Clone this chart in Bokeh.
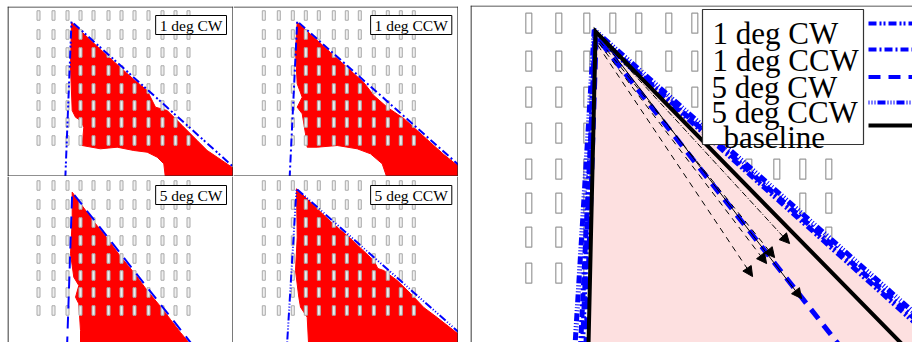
from bokeh.plotting import figure
from bokeh.models import Range1d, Label, Span, BoxAnnotation, Arrow, NormalHead, Spacer
from bokeh.layouts import row, column
from bokeh.embed import file_html
from bokeh.resources import INLINE

# ---------------- data (channel units, y pointing down) ----------------
pillar_cols = [31, 46, 60, 73, 86, 101, 114, 127, 141, 155, 168, 181]
pillar_rows = [9, 28, 46, 64, 82, 99, 116, 134]
pillar_w = 3.0
pillar_h = 9.5

case_names = ["1 deg CW", "1 deg CCW", "5 deg CW", "5 deg CCW"]

# wake boundary lines: left end, apex, right end
cw1_bx = [57.8, 64.0, 232.0]
cw1_by = [172.0, 15.0, 165.9]
ccw1_bx = [56.8, 64.4, 232.0]
ccw1_by = [172.0, 14.7, 163.9]
cw5_bx = [59.5, 64.7, 187.8]
cw5_by = [172.0, 15.7, 172.0]
ccw5_bx = [54.0, 63.7, 232.0]
ccw5_by = [172.0, 12.3, 161.1]

# baseline wake (black outline, pink area)
base_x = [60.8, 64.4, 220.1]
base_y = [172.0, 13.2, 172.0]
base_area_x = [64.4, 232.0, 232.0, 60.8]
base_area_y = [13.2, 164.0, 172.0, 172.0]

# measured wake regions (red)
cw1_rx = [64.0, 93.0, 126.3, 139.7, 148.0, 159.7, 174.7, 189.7, 199.7, 209.7, 226.3, 228.0,
          228.0, 158.0, 156.3, 149.7, 139.7, 126.3, 109.7, 93.0, 74.7, 76.3, 73.0, 68.0, 64.7, 63.0]
cw1_ry = [15.7, 43.0, 73.0, 84.0, 100.7, 104.0, 119.0, 134.0, 144.0, 150.7, 162.0, 163.0,
          172.0, 172.0, 157.3, 150.7, 145.7, 144.0, 140.7, 142.3, 139.0, 120.7, 114.0, 110.7, 104.0, 60.7]

ccw1_rx = [64.4, 97.7, 121.0, 131.0, 141.0, 154.4, 171.0, 184.4, 197.7, 211.0, 226.0, 228.0,
           228.0, 154.4, 149.4, 137.7, 124.4, 104.4, 84.4, 74.4, 72.7, 69.4, 64.4, 69.4, 64.4, 62.7]
ccw1_ry = [15.7, 46.0, 67.0, 76.0, 89.0, 100.7, 112.0, 124.0, 136.0, 148.0, 160.0, 161.0,
           172.0, 172.0, 157.3, 147.3, 142.3, 139.0, 140.7, 140.7, 127.3, 107.3, 100.7, 90.7, 77.3, 44.0]

cw5_rx = [64.7, 86.3, 99.7, 113.0, 126.3, 139.7, 153.0, 163.0, 173.0, 181.3, 185.0,
          73.0, 73.0, 71.3, 68.0, 71.3, 66.3, 63.0, 64.7]
cw5_ry = [15.7, 45.0, 62.0, 80.0, 96.0, 114.0, 130.0, 143.0, 156.0, 166.0, 172.0,
          172.0, 154.0, 127.3, 120.7, 109.0, 100.7, 77.3, 44.0]

ccw5_rx = [63.7, 97.7, 117.7, 137.7, 141.0, 145.0, 151.0, 164.4, 177.7, 191.0, 204.4, 226.0, 228.0,
           228.0, 76.0, 74.4, 67.7, 66.0, 62.7, 64.4]
ccw5_ry = [12.3, 45.0, 62.0, 81.0, 84.0, 92.0, 94.0, 104.0, 117.0, 131.0, 141.0, 158.0, 159.0,
           172.0, 172.0, 140.7, 130.7, 120.7, 94.0, 60.7]

# flow arrows (right panel)
arrow_x0 = [67.0, 66.5, 66.0, 65.5, 67.5]
arrow_y0 = [16.5, 18.0, 19.0, 20.0, 17.0]
arrow_x1 = [161.4, 153.9, 149.9, 142.9, 167.4]
arrow_y1 = [119.2, 126.2, 129.2, 135.7, 146.7]
arrow_dash = ["6 2 1 2", "6 5", "6 5", "6 5", "solid"]

# ---------------- styles ----------------
BLUE = "#0000ff"
RED = "#ff0000"
PINK = "#fde0e0"
case_dash = ["8 3 2 2 2 3", "8 3 2 3", "12 8", "1 2 1 2 1 2 8 2"]
bounds = [(cw1_bx, cw1_by), (ccw1_bx, ccw1_by), (cw5_bx, cw5_by), (ccw5_bx, ccw5_by)]
regions = [(cw1_rx, cw1_ry), (ccw1_rx, ccw1_ry), (cw5_rx, cw5_ry), (ccw5_rx, ccw5_ry)]

px_list = [c for r in pillar_rows for c in pillar_cols]
py_list = [r for r in pillar_rows for c in pillar_cols]


def make_fig(w, h, xr, yr):
    p = figure(width=w, height=h, x_range=Range1d(*xr), y_range=Range1d(*yr),
               output_backend="svg", toolbar_location=None,
               x_axis_location=None, y_axis_location=None, min_border=0)
    p.grid.visible = False
    p.outline_line_color = None
    p.background_fill_color = "white"
    p.border_fill_color = "white"
    return p


def border(p, xr, yr, sides, scale=1.0, color="#222222", width=1.2):
    d = 0.5 / scale
    if "top" in sides:
        p.add_layout(Span(location=yr[1] + d, dimension="width", line_color=color, line_width=width))
    if "bottom" in sides:
        p.add_layout(Span(location=yr[0] - d, dimension="width", line_color=color, line_width=width))
    if "left" in sides:
        p.add_layout(Span(location=xr[0] + d, dimension="height", line_color=color, line_width=width))
    if "right" in sides:
        p.add_layout(Span(location=xr[1] - d, dimension="height", line_color=color, line_width=width))


cell_specs = [
    (226, 170, (0.0, 226.0), (170.0, 0.0), ["top", "left", "right", "bottom"]),
    (225, 170, (0.7, 225.7), (170.0, 0.0), ["top", "right", "bottom"]),
    (226, 166, (0.0, 226.0), (166.0, 0.0), ["left", "right"]),
    (225, 166, (0.7, 225.7), (166.0, 0.0), ["right"]),
]

cells = []
for i, (w, h, xr, yr, sides) in enumerate(cell_specs):
    p = make_fig(w, h, xr, yr)
    rx, ry = regions[i]
    p.patch(rx, ry, fill_color=RED, line_color=RED, line_width=1)
    p.rect(px_list, py_list, width=pillar_w, height=pillar_h,
           fill_color="#eeeeee", line_color="#aaaaaa", line_width=1)
    bx, by = bounds[i]
    p.line(bx, by, line_color=BLUE, line_width=2, line_dash=case_dash[i])
    p.add_layout(Label(x=219, y=18.5, text=case_names[i], text_align="right",
                       text_baseline="alphabetic", text_font="Liberation Serif",
                       text_font_size="15.5px", text_color="black",
                       background_fill_color="white", border_line_color="black",
                       border_line_width=1,
                       padding=dict(left=4, right=4, top=1, bottom=1)))
    border(p, xr, yr, sides)
    cells.append(p)

# ---------------- right panel ----------------
RX = (1.85, 222.85)
RY = (168.65, 0.15)
rp_fig = make_fig(442, 337, RX, RY)


def rp(px, py):
    return (px - 466.3) / 2.0, (py - 4.7) / 2.0


rp_fig.rect(px_list, py_list, width=pillar_w, height=10,
            fill_color="white", line_color="#999999", line_width=1.2)
rp_fig.patch(base_area_x, base_area_y, fill_color=PINK, line_color=None)
for i in range(4):
    bx, by = bounds[i]
    rp_fig.line(bx, by, line_color=BLUE, line_width=5, line_dash=case_dash[i])
rp_fig.line(base_x, base_y, line_color="black", line_width=4, line_join="miter")

for j in range(len(arrow_x0)):
    rp_fig.add_layout(Arrow(end=NormalHead(size=10, fill_color="black", line_color="black", line_width=1),
                            x_start=arrow_x0[j], y_start=arrow_y0[j],
                            x_end=arrow_x1[j], y_end=arrow_y1[j],
                            line_color="black", line_width=1, line_dash=arrow_dash[j]))

# legend (drawn by hand: labels inside a box, samples to its right)
bl, bt = rp(702, 9)
br, bb = rp(863, 144)
rp_fig.add_layout(BoxAnnotation(left=bl, right=br, top=bt, bottom=bb,
                                fill_color="white", fill_alpha=1.0,
                                line_color="#333333", line_width=1.2, line_alpha=1.0))
legend_labels = case_names + ["baseline"]
legend_text_px = [712, 712, 711, 711, 723]
legend_text_py = [33, 60, 87, 112, 137]
legend_line_py = [23, 49, 76.5, 102, 125]
legend_colors = [BLUE, BLUE, BLUE, BLUE, "black"]
legend_dashes = case_dash + ["solid"]
for k, lab in enumerate(legend_labels):
    tx, ty = rp(legend_text_px[k], legend_text_py[k])
    rp_fig.add_layout(Label(x=tx, y=ty, text=lab, text_align="left", text_baseline="alphabetic",
                            text_font="Liberation Serif", text_font_size="31px", text_color="black"))
    x0, y0 = rp(868, legend_line_py[k])
    x1, _ = rp(930, legend_line_py[k])
    rp_fig.line([x0, x1], [y0, y0], line_color=legend_colors[k], line_width=4,
                line_dash=legend_dashes[k])

border(rp_fig, RX, RY, ["top", "left"], scale=2.0)

left_panel = column(Spacer(width=451, height=6),
                    row(cells[0], cells[1]), row(cells[2], cells[3]))
right_panel = column(Spacer(width=442, height=5), rp_fig)
layout = row(Spacer(width=7, height=342), left_panel, Spacer(width=12, height=342), right_panel)

open("out.html", "w").write(file_html(layout, INLINE))
